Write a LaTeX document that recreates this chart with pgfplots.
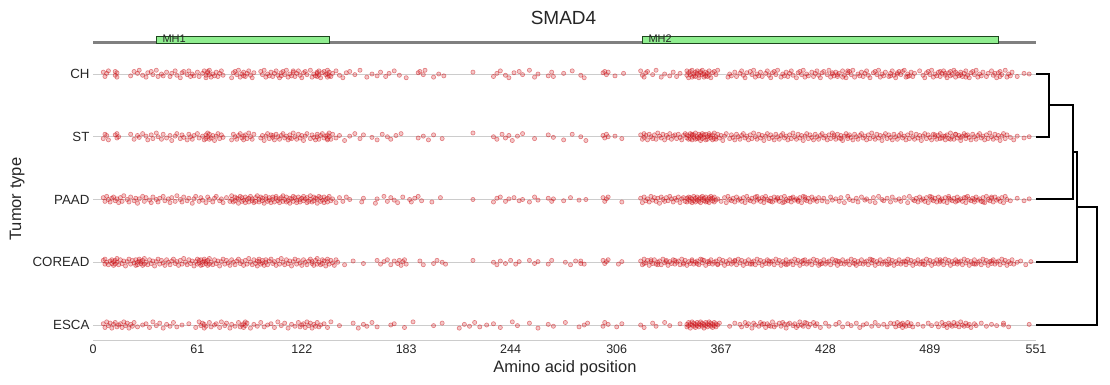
\documentclass[border=0pt]{standalone}
\usepackage{fontspec}
\setmainfont{Liberation Sans}
\usepackage{pgfplots}
\pgfplotsset{compat=1.18}
\definecolor{pt}{RGB}{205,20,25}
\definecolor{dom}{RGB}{144,238,144}
\definecolor{domedge}{RGB}{30,70,30}
\definecolor{gridc}{RGB}{204,204,204}
\definecolor{txt}{RGB}{38,38,38}
\pgfplotsset{pts/.style={only marks, mark=*, mark size=2.1pt, mark options={draw=pt, fill=pt, fill opacity=0.24, draw opacity=0.5, line width=0.6pt}}}
\begin{document}
\begin{tikzpicture}
\begin{axis}[
 at={(93pt,44pt)}, anchor=south west,
 scale only axis, width=943pt, height=283pt,
 xmin=0, xmax=551, ymin=-0.255, ymax=4.255,
 clip=false,
 axis line style={draw=none},
 xtick={0,61,122,183,244,306,367,428,489,551},
 ytick={0,1,2,3,4},
 yticklabels={ESCA,COREAD,PAAD,ST,CH},
 major tick length=0pt,
 ymajorgrids, grid style={gridc, line width=0.8pt},
 xticklabel style={font=\fontsize{12.5}{14}\selectfont, text=txt},
 yticklabel style={font=\fontsize{13.3}{15}\selectfont, text=txt},
 /pgf/number format/assume math mode=true,
 scaled ticks=false,
]
\draw[gridc, line width=1pt] (rel axis cs:0,0) -- (rel axis cs:1,0);
% CH
\addplot[pts] coordinates {(6,4.03)(7,3.96)(8,4.01)(9,4.05)(13,3.98)(13,4.04)(14,3.95)(14,4.02)
(22,3.97)(24,4.04)(26,4.01)(27,4.06)(29,3.98)(31,3.95)(32,4.02)(34,4.04)(35,3.99)(37,4.06)(38,3.96)(40,4.00)(41,3.97)(43,4.03)(45,3.96)(46,4.01)(48,4.05)(49,3.98)(51,3.94)(52,4.02)(53,4.04)(55,3.99)(56,4.05)(57,3.96)
(58,4.00)(59,3.97)(61,4.03)(62,3.96)(64,4.01)(65,4.05)(66,3.98)(66,3.94)(67,4.02)(67,4.04)(68,3.99)(68,4.06)(69,3.95)(70,4.00)(71,3.97)(72,4.03)(73,3.96)(74,4.01)(75,4.05)(76,3.98)
(81,3.94)(82,4.02)(83,4.04)(84,3.99)(85,4.06)(86,3.95)(87,4.00)(88,3.97)(88,4.03)(89,3.96)(90,4.01)(91,4.05)(92,3.98)(93,3.94)(94,4.02)
(98,4.04)(99,3.99)(100,4.06)(101,3.95)(102,4.00)(103,3.97)(104,4.03)(105,3.96)(106,4.01)(107,4.05)(108,3.98)(109,3.94)(110,4.02)(111,4.04)(112,3.99)(113,4.06)(114,3.95)(115,4.00)(116,3.97)(117,4.03)(118,3.96)(119,4.01)(120,4.05)(121,3.98)(122,3.94)(123,4.02)(124,4.04)(125,3.99)(110,3.97)(117,4.05)
(127,4.06)(128,3.95)(129,4.00)(130,3.97)(131,4.03)(131,3.96)(131,4.01)(132,4.05)(132,3.98)(133,3.94)(134,4.02)(135,4.04)(136,3.99)(137,4.06)(137,3.95)(137,4.00)(138,3.97)(138,4.03)(139,3.96)(140,4.01)
(142,4.05)(144,3.98)(146,3.94)(148,4.02)(150,4.04)(153,3.99)(156,4.06)(160,3.95)(163,4.00)(166,3.97)(168,4.03)(171,3.96)(173,4.01)(176,4.05)(179,3.98)(183,3.94)(190,4.02)(191,4.04)(193,3.99)(194,4.06)(199,3.95)(202,4.00)(205,3.97)(222,4.03)(234,3.96)(236,4.01)(238,4.05)(241,3.98)(243,3.94)(246,4.02)(249,4.04)(251,3.99)(255,4.06)(258,3.95)(260,4.00)(266,3.97)(268,4.03)(269,3.96)(275,4.01)(280,4.05)(285,3.98)
(287,3.94)(298,4.02)(299,4.04)(300,3.99)(301,4.03)(305,3.97)(310,4.01)
(320,4.05)(321,3.98)(322,3.95)(323,4.02)(324,4.04)(327,3.99)(329,4.06)(332,3.95)(334,4.00)(337,3.97)(339,4.03)(341,3.96)(343,4.01)
(347,4.05)(347,3.98)(348,3.94)(348,4.02)(349,4.04)(349,3.99)(350,4.06)(350,3.95)(351,4.00)(351,3.97)(352,4.03)(352,3.96)(353,4.01)(353,4.05)(354,3.98)(354,3.94)(355,4.02)(355,4.04)(356,3.99)(356,4.06)(357,3.95)(357,4.00)(358,3.97)(358,4.03)(359,3.96)(359,4.01)(360,4.05)(360,3.98)(361,3.94)(362,4.02)(363,4.04)(364,3.99)(365,4.06)
(371,3.95)(372,4.00)(373,3.97)(375,4.03)(376,3.96)(378,4.01)
(379,4.05)(380,3.98)(381,3.94)(382,4.02)(384,4.04)(385,3.99)(386,4.06)(387,3.95)(388,4.00)(389,3.97)(390,4.03)(391,3.96)(393,4.01)(394,4.05)(395,3.98)(396,3.94)(397,4.02)(398,4.04)(399,3.99)(400,4.06)(402,3.95)(403,4.00)(404,3.97)(405,4.03)(406,3.96)(407,4.01)(408,4.05)(409,3.98)(411,3.94)(412,4.02)(413,4.04)(414,3.99)(415,4.06)(416,3.95)(417,4.00)(418,3.97)(420,4.03)(421,3.96)(422,4.01)(423,4.05)(424,3.98)(425,3.94)(426,4.02)(427,4.04)(429,3.99)(430,4.06)(431,3.95)(432,4.00)(433,3.97)(434,4.03)(435,3.96)(436,4.01)(438,4.05)(439,3.98)(440,3.94)(441,4.02)(442,4.04)(443,3.99)(444,4.06)(445,3.95)(447,4.00)(448,3.97)(449,4.03)(450,3.96)(451,4.01)(452,4.05)(453,3.98)(454,3.94)(456,4.02)(457,4.04)(458,3.99)(459,4.06)(460,3.95)(461,4.00)(462,3.97)(463,4.03)(465,3.96)(466,4.01)(467,4.05)(468,3.98)(469,3.94)(470,4.02)(471,4.04)(472,3.99)(474,4.06)(475,3.95)(476,4.00)(477,3.97)(478,4.03)(479,3.96)
(432,4.02)(435,3.99)(438,3.95)(441,4.05)(466,3.97)(470,4.00)(473,4.04)(476,3.96)
(480,4.01)(483,4.05)
(485,3.98)(486,3.94)(487,4.02)(488,4.04)(489,3.99)(490,4.06)(491,3.95)(492,4.00)(493,3.97)(494,4.03)(495,3.96)(496,4.01)(497,4.05)(498,3.98)(499,3.94)(500,4.02)(501,4.04)(502,3.99)(503,4.06)(504,3.95)(505,4.00)(506,3.97)(507,4.03)(508,3.96)(509,4.01)(510,4.05)(511,3.98)(512,3.94)(513,4.02)(514,4.04)(515,3.99)(516,4.06)(517,3.95)(518,4.00)(495,4.04)(498,4.01)(501,3.97)(504,4.03)(507,3.99)(510,3.95)
(519,3.97)(520,4.03)(522,3.96)(523,4.01)(525,4.05)(526,3.98)(528,3.94)(529,4.02)(530,4.04)(531,3.99)(533,4.06)(534,3.95)(535,4.00)(536,3.97)(537,4.03)(527,4.01)(530,3.96)
(540,3.96)(544,4.01)(547,4.00)};
% ST
\addplot[pts] coordinates {(6,2.97)(7,3.04)(8,3.02)(9,2.95)(13,3.03)(14,2.98)(14,3.05)(15,3.00)
(22,3.04)(24,2.96)(26,3.02)(27,2.99)(29,3.05)(31,3.01)(32,2.95)(34,3.03)(35,2.97)(37,3.06)(38,3.00)(40,2.96)(41,3.04)(43,2.98)(45,3.02)(46,2.94)(48,3.01)(49,3.05)(51,2.97)(52,3.03)(53,2.99)(55,2.95)(56,3.04)(57,3.00)
(58,2.96)(59,3.02)(61,3.05)(62,2.98)(64,3.01)(65,2.95)(66,3.03)(66,2.97)(67,3.06)(67,3.00)(68,2.96)(68,3.04)(69,2.98)(70,3.02)(71,2.94)(72,3.01)(73,3.05)(74,2.97)(75,3.03)(76,2.99)
(81,2.95)(82,3.04)(83,3.00)(84,2.96)(85,3.02)(86,3.05)(87,2.98)(88,3.01)(88,2.95)(89,3.03)(90,2.97)(91,3.06)(92,3.00)(93,2.96)(94,3.04)
(98,2.98)(99,3.02)(100,2.94)(101,3.01)(102,3.05)(103,2.97)(104,3.03)(105,2.99)(106,2.95)(107,3.04)(108,3.00)(109,2.96)(110,3.02)(111,3.05)(112,2.98)(113,3.01)(114,2.95)(115,3.03)(116,2.97)(117,3.06)(118,3.00)(119,2.96)(120,3.04)(121,2.98)(122,3.02)(123,2.94)(124,3.01)(125,3.05)(105,3.02)(115,2.98)
(127,2.97)(128,3.03)(129,2.99)(130,2.95)(131,3.04)(131,3.00)(132,2.96)(133,3.02)(134,3.05)(135,2.98)(136,3.01)(137,2.95)(137,3.03)(137,2.97)(138,3.06)(138,3.00)(139,2.96)(140,3.04)
(142,2.98)(144,3.02)(147,2.94)(150,3.01)(153,3.05)(156,2.97)(158,3.03)(163,2.99)(166,2.95)(169,3.04)(172,3.00)(174,2.96)(177,3.02)(180,3.05)(190,2.98)(193,3.01)(196,2.95)(199,3.03)(204,2.97)(222,3.06)(234,3.00)(236,2.96)(239,3.04)(241,2.98)(243,3.02)(245,2.94)(248,3.01)(251,3.05)(258,2.97)(266,3.03)(269,2.99)(275,2.95)(280,3.04)(285,3.00)
(288,2.94)(298,3.02)(299,2.98)(300,3.04)(301,3.00)(305,3.01)(309,2.97)
(320,3.03)(321,2.96)(322,3.05)(322,2.99)(323,3.02)(324,2.95)(325,3.04)(326,3.00)(327,2.97)(328,3.03)(329,2.96)(330,3.06)(331,3.01)(332,2.98)(333,3.04)(334,2.95)(335,3.02)(336,2.99)(337,3.05)(338,2.96)(339,3.01)(340,3.03)(341,2.97)(342,3.04)(343,2.99)(344,2.95)(345,3.02)(346,3.05)
(347,2.98)(347,3.03)(348,2.96)(348,3.01)(349,3.05)(349,2.97)(350,3.02)(350,2.95)(350,3.04)(351,2.99)(351,3.03)(352,2.96)(352,3.06)(353,3.00)(353,2.97)(354,3.04)(354,2.98)(355,3.02)(355,2.94)(355,3.01)(356,3.05)(356,2.97)(357,3.03)(357,2.99)(358,2.95)(358,3.04)(359,3.00)(359,2.96)(360,3.02)(360,3.05)(361,2.98)(361,3.01)(362,2.95)(362,3.03)(363,2.97)(363,3.06)(364,3.00)(364,2.96)(365,3.04)(366,2.98)
(367,3.02)(368,2.94)(369,3.01)(370,3.05)(372,2.97)(373,3.03)(374,2.99)(375,2.95)(376,3.04)(377,3.00)(378,2.96)(379,3.02)(380,3.05)(381,2.98)(382,3.01)(383,2.95)(384,3.03)(385,2.97)(386,3.06)(387,3.00)(388,2.96)(389,3.04)(390,2.98)(391,3.02)(392,2.94)(393,3.01)(394,3.05)(395,2.97)(396,3.03)(397,2.99)(398,2.95)(399,3.04)(400,3.00)(401,2.96)(402,3.02)(403,3.05)(404,2.98)(405,3.01)(406,2.95)(407,3.03)(408,2.97)(409,3.06)(410,3.00)(411,2.96)(412,3.04)(413,2.98)(414,3.02)(415,2.94)(416,3.01)(417,3.05)(418,2.97)(419,3.03)(420,2.99)(421,2.95)(422,3.04)(423,3.00)(424,2.96)(425,3.02)(426,3.05)(427,2.98)(428,3.01)(429,2.95)(430,3.03)(431,2.97)(432,3.06)(433,3.00)(434,2.96)(435,3.04)(436,2.98)(437,3.02)(438,2.94)(439,3.01)(440,3.05)(441,2.97)(442,3.03)(443,2.99)(444,2.95)(445,3.04)(446,3.00)(447,2.96)(448,3.02)(449,3.05)(450,2.98)(451,3.01)(452,2.95)(453,3.03)(454,2.97)(455,3.06)(456,3.00)(457,2.96)(458,3.04)(459,2.98)(460,3.02)(461,2.94)(462,3.01)(463,3.05)(464,2.97)(465,3.03)(466,2.99)(467,2.95)(468,3.04)(469,3.00)(470,2.96)(471,3.02)(472,3.05)(473,2.98)(474,3.01)(475,2.95)(476,3.03)(477,2.97)(478,3.06)(479,3.00)(480,2.96)(481,3.04)(482,2.98)(483,3.02)(484,2.94)(485,3.01)(486,3.05)(487,2.97)(488,3.03)(489,2.99)(490,2.95)(491,3.04)(492,3.00)(493,2.96)(494,3.02)(495,3.05)(496,2.98)(497,3.01)(498,2.95)(499,3.03)(500,2.97)(501,3.06)(502,3.00)(503,2.96)(504,3.04)(505,2.98)(506,3.02)(507,2.94)(508,3.01)(509,3.05)(510,2.97)(511,3.03)(512,2.99)(513,2.95)(514,3.04)(515,3.00)(516,2.96)(517,3.02)(518,3.05)(519,2.98)(520,3.01)(521,2.95)(522,3.03)(523,2.97)(524,3.06)(525,3.00)(526,2.96)(527,3.04)(528,2.98)(529,3.02)(530,2.94)(531,3.01)(532,3.05)(533,2.97)(534,3.03)(536,2.99)(538,2.95)(540,3.01)(544,2.98)(547,3.00)
(492,3.03)(495,2.97)(498,3.01)(501,2.96)(504,3.04)(507,2.99)(510,3.02)(433,3.03)(437,2.97)(441,3.01)};
% PAAD
\addplot[pts] coordinates {(6,2.03)(7,1.97)(8,2.05)(9,2.00)(10,1.96)(11,2.02)(12,2.04)(13,1.98)(14,2.01)(15,1.95)(16,2.03)(17,1.97)(18,2.06)(20,2.00)(21,1.96)(22,2.04)(24,1.98)(25,2.02)(26,1.94)(27,2.01)(29,2.05)(30,1.97)(31,2.03)(33,1.99)(34,1.95)(35,2.04)(37,2.00)(38,1.96)(39,2.02)(41,2.05)(42,1.98)(44,2.01)(45,1.95)(46,2.03)(48,1.97)(49,2.06)(51,2.00)(52,1.96)(53,2.04)(55,1.98)(56,2.02)(58,1.94)(59,2.01)(60,2.05)(62,1.97)(63,2.03)(64,1.99)(66,1.95)(67,2.04)(68,2.00)(70,1.96)(71,2.02)(72,2.05)(74,1.98)(75,2.01)(76,1.95)(78,2.03)
(80,1.97)(81,2.06)(81,2.00)(82,1.96)(83,2.04)(83,1.98)(84,2.02)(85,1.94)(85,2.01)(86,2.05)(87,1.97)(87,2.03)(88,1.99)(89,1.95)(89,2.04)(90,2.00)(91,1.96)(91,2.02)(92,2.05)(93,1.98)(93,2.01)(94,1.95)(95,2.03)(95,1.97)(96,2.06)(97,2.00)(97,1.96)(98,2.04)(99,1.98)(99,2.02)(100,1.94)(101,2.01)(101,2.05)(102,1.97)(103,2.03)(103,1.99)(104,1.95)(105,2.04)(105,2.00)(106,1.96)(107,2.02)(107,2.05)(108,1.98)(109,2.01)(109,1.95)(110,2.03)(111,1.97)(111,2.06)(112,2.00)(113,1.96)(113,2.04)(114,1.98)(115,2.02)(115,1.94)(116,2.01)(117,2.05)(117,1.97)(118,2.03)(119,1.99)(119,1.95)(120,2.04)(121,2.00)(121,1.96)(122,2.02)(123,2.05)(123,1.98)(124,2.01)(125,1.95)(125,2.03)(126,1.97)(127,2.06)(127,2.00)(128,1.96)(129,2.04)(129,1.98)(130,2.02)(131,1.94)(131,2.01)(132,2.05)(133,1.97)(133,2.03)(134,1.99)(135,1.95)(135,2.04)(136,2.00)(137,1.96)(137,2.02)(138,2.05)(139,1.98)(140,2.01)
(142,1.95)(144,2.03)(146,1.97)(148,2.04)(150,2.00)(157,1.96)(158,2.02)(165,1.94)(166,2.01)(170,2.05)(172,1.97)(174,2.03)(176,1.99)(178,1.95)(181,2.04)(185,2.00)(186,1.96)(188,2.02)(190,2.05)(192,1.98)(198,1.96)(203,2.03)(222,2.00)(234,1.96)(236,2.02)(238,2.04)(241,1.97)(243,2.01)(246,2.03)(249,1.98)(251,2.00)(255,1.96)(258,2.04)(260,1.99)(266,2.02)(268,1.97)(269,2.01)(275,1.98)(279,2.03)(284,1.99)
(288,2.00)(298,2.03)(299,1.97)(300,2.01)(301,2.04)(309,1.96)
(320,2.02)(321,1.95)(322,2.04)(323,1.98)(324,2.01)(325,1.96)(326,2.05)(327,1.99)(328,2.03)(329,1.97)(330,2.02)(331,1.94)(332,2.04)(333,2.00)(334,1.97)(335,2.03)(336,1.98)(337,2.05)(338,2.01)(339,1.96)(340,2.02)(341,1.99)(342,2.04)(343,1.95)(344,2.01)(345,2.03)(346,1.97)
(347,2.02)(347,1.96)(348,2.04)(348,2.00)(349,1.97)(349,2.03)(350,1.95)(350,2.01)(351,2.05)(351,1.98)(352,2.02)(352,1.96)(353,2.04)(353,1.99)(354,2.01)(354,1.97)(355,2.03)(355,1.95)(356,2.05)(356,2.00)(357,1.98)(357,2.02)(358,1.96)(358,2.04)(359,2.00)(359,1.97)(360,2.03)(360,1.95)(361,2.01)(361,2.05)(362,1.98)(362,2.02)(363,1.96)(363,2.04)(364,1.99)(365,2.01)
(367,1.97)(369,2.03)
(370,1.95)(371,2.05)(372,2.00)(373,1.98)(374,2.02)(375,1.96)(376,2.04)(377,1.99)(378,2.01)(379,1.97)(380,2.03)(381,1.95)(382,2.05)(383,2.00)(384,1.98)(385,2.02)(386,1.96)(387,2.04)(388,1.99)(389,2.01)(390,1.97)(391,2.03)(392,1.95)(393,2.05)(394,2.00)(395,1.98)(396,2.02)(397,1.96)(398,2.04)(399,1.99)(400,2.01)(401,1.97)(402,2.03)(403,1.95)(404,2.05)(405,2.00)(406,1.98)(407,2.02)(408,1.96)(409,2.04)(410,1.99)(411,2.01)(412,1.97)(413,2.03)(414,1.95)(415,2.05)(416,2.00)(417,1.98)(418,2.02)(419,1.96)(420,2.04)(421,1.99)(422,2.01)(423,1.97)(424,2.03)(388,2.05)(392,2.01)(396,1.97)(400,2.03)(404,1.96)(408,2.02)(412,1.99)(416,2.04)
(426,1.98)(427,2.02)(429,1.96)(431,2.04)(432,1.99)(434,2.01)(436,1.97)(437,2.03)(439,1.95)(441,2.05)(442,2.00)(444,1.98)(446,2.02)(447,1.96)(449,2.04)(451,1.99)(452,2.01)(454,1.97)(456,2.03)(457,1.95)(459,2.05)(461,2.00)(462,1.98)(464,2.02)(466,1.96)(467,2.04)(469,1.99)(471,2.01)(472,1.97)(474,2.03)(476,1.95)(477,2.05)(479,2.00)
(480,1.98)(481,2.02)(482,1.96)(483,2.04)(484,1.99)(485,2.01)(486,1.97)(487,2.03)(488,1.95)(489,2.05)(490,2.00)(491,1.98)(492,2.02)(493,1.96)(494,2.04)(495,1.99)(496,2.01)(497,1.97)(498,2.03)(499,1.95)(500,2.05)(501,2.00)(502,1.98)(503,2.02)(504,1.96)(505,2.04)(506,1.99)(507,2.01)(508,1.97)(509,2.03)(510,1.95)(511,2.05)(512,2.00)(513,1.98)(514,2.02)(515,1.96)(516,2.04)(517,1.99)(518,2.01)(519,1.97)(520,2.03)(521,1.95)(522,2.05)(523,2.00)(524,1.98)(525,2.02)(526,1.96)(527,2.04)(528,1.99)(529,2.01)(530,1.97)(531,2.03)(532,1.95)(533,2.05)(534,2.00)(536,1.98)(490,2.04)(495,1.97)(500,2.02)(505,1.98)(510,2.03)(515,2.00)(520,1.96)(525,2.04)
(540,2.02)(544,1.98)(547,2.01)};
% COREAD
\addplot[pts] coordinates {(6,1.03)(7,0.97)(7,1.05)(8,1.00)(9,0.96)(10,1.02)(11,1.04)(11,0.98)(12,1.01)(12,0.95)(13,1.03)(13,0.97)(14,1.06)(14,1.00)(15,0.96)(16,1.04)(17,0.98)(18,1.02)(19,0.94)(20,1.01)(21,1.05)(22,0.97)(23,1.03)(24,0.99)(25,0.95)(25,1.04)(26,1.00)(26,0.96)(27,1.02)(27,1.05)(28,0.98)(28,1.01)(29,0.95)(29,1.03)(30,0.97)(30,1.06)(31,1.00)(32,0.96)(33,1.04)(34,0.98)(35,1.02)(36,0.94)(37,1.01)(38,1.05)(39,0.97)(40,1.03)(41,0.99)(42,0.95)(43,1.04)(44,1.00)(45,0.96)(46,1.02)(47,1.05)(48,0.98)(49,1.01)(50,0.95)(51,1.03)(52,0.97)(53,1.06)(54,1.00)(55,0.96)(56,1.04)(57,0.98)(58,1.02)(59,0.94)(60,1.01)(61,1.05)(61,0.97)(62,1.03)(62,0.99)(63,0.95)(63,1.04)(64,1.00)(64,0.96)(65,1.02)(65,1.05)(66,0.98)(66,1.01)(67,0.95)(67,1.03)(68,0.97)(68,1.06)(69,1.00)(70,0.96)(71,1.04)(72,0.98)(73,1.02)(74,0.94)(75,1.01)(76,1.05)(77,0.97)(78,1.03)(79,0.99)(80,0.95)(81,1.04)(82,1.00)(83,0.96)(84,1.02)(85,1.05)(86,0.98)(87,1.01)(88,0.95)(89,1.03)(90,0.97)(91,1.06)(92,1.00)(93,0.96)(94,1.04)(95,0.98)(96,1.02)(96,0.94)(97,1.01)(97,1.05)(98,0.97)(99,1.03)(99,0.99)(100,0.95)(101,1.04)(101,1.00)(102,0.96)(103,1.02)(104,1.05)(105,0.98)(106,1.01)(107,0.95)(108,1.03)(109,0.97)(110,1.06)(111,1.00)(112,0.96)(113,1.04)(114,0.98)(115,1.02)(116,0.94)(117,1.01)(118,1.05)(119,0.97)(120,1.03)(121,0.99)(122,0.95)(123,1.04)(124,1.00)(125,0.96)(126,1.02)(127,1.05)(128,0.98)(128,1.01)(129,0.95)(130,1.03)(131,0.97)(131,1.06)(132,1.00)(133,0.96)(134,1.04)(134,0.98)(135,1.02)(136,0.94)(137,1.01)(137,1.05)(138,0.97)(139,1.03)(140,0.99)(141,0.95)(142,1.04)(143,1.00)
(147,0.96)(152,1.02)(158,0.98)(166,1.03)(168,0.97)(170,1.01)(172,1.04)(174,0.96)(176,1.02)(178,0.98)(179,1.03)(180,0.95)(181,1.01)(182,1.04)(183,0.97)(191,1.02)(193,0.96)(199,0.98)(201,1.03)(204,1.00)(206,0.97)(222,1.03)(234,1.00)(236,0.96)(238,1.02)(241,0.98)(244,1.03)(247,0.97)(249,1.01)(255,1.03)(258,0.98)(260,1.01)(266,0.97)(268,1.03)(276,1.00)(279,0.96)(282,1.02)(285,0.98)
(285,1.02)(287,0.97)(298,1.03)(299,0.98)(300,1.01)(301,1.04)(307,0.97)(309,1.01)
(320,1.02)(321,0.96)(322,1.05)(323,0.99)(324,1.03)(325,0.95)(326,1.01)(327,0.98)(328,1.04)(329,0.97)(330,1.00)(331,1.02)(332,0.96)(333,1.05)(334,0.99)(335,1.03)(336,0.95)(337,1.01)(338,0.98)(339,1.04)(340,0.97)(341,1.00)(342,1.02)(343,0.96)(344,1.05)(345,0.99)(346,1.03)(347,0.95)(348,1.01)(349,0.98)(350,1.04)(351,0.97)(352,1.00)(353,1.02)(354,0.96)(355,1.05)(356,0.99)(357,1.03)(358,0.95)(359,1.01)(360,0.98)(361,1.04)(362,0.97)(363,1.00)(364,1.02)(365,0.96)(366,1.05)(367,0.99)(368,1.03)(369,0.95)(370,1.01)(371,0.98)(372,1.04)(373,0.97)(374,1.00)(375,1.02)(376,0.96)(377,1.05)(378,0.99)(379,1.03)(380,0.95)(381,1.01)(382,0.98)(383,1.04)(384,0.97)(385,1.00)(386,1.02)(387,0.96)(388,1.05)(389,0.99)(390,1.03)(391,0.95)(392,1.01)(393,0.98)(394,1.04)(395,0.97)(396,1.00)(397,1.02)(398,0.96)(399,1.05)(400,0.99)(401,1.03)(402,0.95)(403,1.01)(404,0.98)(405,1.04)(406,0.97)(407,1.00)(408,1.02)(409,0.96)(410,1.05)(411,0.99)(412,1.03)(413,0.95)(414,1.01)(415,0.98)(416,1.04)(417,0.97)(418,1.00)(419,1.02)(420,0.96)(421,1.05)(422,0.99)(423,1.03)(424,0.95)(425,1.01)(426,0.98)(427,1.04)(428,0.97)(429,1.00)(430,1.02)(431,0.96)(432,1.05)(433,0.99)(434,1.03)(435,0.95)(436,1.01)(437,0.98)(438,1.04)(439,0.97)(440,1.00)(441,1.02)(442,0.96)(443,1.05)(444,0.99)(445,1.03)(446,0.95)(447,1.01)(448,0.98)(449,1.04)(450,0.97)(451,1.00)(452,1.02)(453,0.96)(454,1.05)(455,0.99)(456,1.03)(457,0.95)(458,1.01)(459,0.98)(460,1.04)(461,0.97)(462,1.00)(463,1.02)(464,0.96)(465,1.05)(466,0.99)(467,1.03)(468,0.95)(469,1.01)(470,0.98)(471,1.04)(472,0.97)(473,1.00)(474,1.02)(475,0.96)(476,1.05)(477,0.99)(478,1.03)(479,0.95)(480,1.01)(481,0.98)(482,1.04)(483,0.97)(484,1.00)(485,1.02)(486,0.96)(487,1.05)(488,0.99)(489,1.03)(490,0.95)(491,1.01)(492,0.98)(493,1.04)(494,0.97)(495,1.00)(496,1.02)(497,0.96)(498,1.05)(499,0.99)(500,1.03)(501,0.95)(502,1.01)(503,0.98)(504,1.04)(505,0.97)(506,1.00)(507,1.02)(508,0.96)(509,1.05)(510,0.99)(511,1.03)(512,0.95)(513,1.01)(514,0.98)(515,1.04)(516,0.97)(517,1.00)(518,1.02)(519,0.96)(520,1.05)(521,0.99)(522,1.03)(523,0.95)(524,1.01)(525,0.98)(526,1.04)(527,0.97)(528,1.00)(529,1.02)(530,0.96)(531,1.05)(532,0.99)(533,1.03)(534,0.95)(535,1.01)(536,0.98)(537,1.04)(538,0.97)(540,1.00)(542,1.02)(545,0.96)(548,1.01)
(322,0.98)(326,1.04)(330,0.96)(335,1.01)(340,1.03)(345,0.97)(350,1.02)(353,0.98)(356,1.04)(360,1.01)(365,0.97)(375,1.03)(385,0.97)(395,1.02)(405,0.96)(415,1.03)(425,0.97)(435,1.02)(445,0.98)(455,1.04)(465,0.97)(475,1.01)(485,0.97)(495,1.04)(505,1.01)(515,0.97)(525,1.02)};
% ESCA
\addplot[pts] coordinates {(6,0.02)(7,-0.04)(8,0.05)(9,-0.01)(10,0.03)(11,-0.05)(12,0.01)(13,0.04)(14,-0.03)(15,0.00)(16,0.02)(17,-0.04)(18,0.05)(19,-0.01)(20,0.03)(21,-0.05)(22,0.01)(23,-0.02)(24,0.04)(26,-0.03)
(29,0.00)(31,0.02)(33,-0.04)(35,0.05)(37,-0.01)(39,0.03)(41,-0.05)(43,0.01)(45,-0.02)(47,0.04)(49,-0.03)
(52,0.00)(56,0.02)(60,-0.04)
(62,0.05)(63,-0.01)(64,0.03)(65,-0.05)(65,0.01)(66,-0.02)(68,0.04)(69,-0.03)(71,0.00)(72,0.02)(74,-0.04)(75,0.05)(77,-0.01)(78,0.03)(80,-0.05)(81,0.01)
(83,-0.02)(85,0.04)(86,-0.03)(87,0.00)(88,0.02)(88,-0.04)(89,0.05)(89,-0.01)(90,0.03)(92,-0.05)(94,0.01)(96,-0.02)(98,0.04)(100,-0.03)
(102,0.00)(104,0.02)(106,-0.04)(108,0.05)(110,-0.01)(112,0.03)(114,-0.05)(116,0.01)(118,-0.02)
(120,0.04)(121,-0.03)(122,0.00)(123,0.02)(124,-0.04)(125,0.05)(126,-0.01)(127,0.03)(128,-0.05)(129,0.01)(130,-0.02)(131,0.04)(132,-0.03)(133,0.00)(135,0.02)(137,-0.04)
(139,0.05)(144,-0.01)(152,0.03)(155,-0.05)(158,0.01)(160,-0.02)(163,0.04)(166,-0.03)(174,0.00)(176,0.02)(182,-0.04)(187,0.05)(199,-0.01)(204,0.03)(214,-0.05)(217,0.01)(220,-0.02)(223,0.04)(226,-0.03)(230,0.00)(234,0.02)(238,-0.04)(245,0.05)(248,-0.01)(255,0.03)(260,-0.05)(266,0.01)(269,-0.02)(276,0.04)(284,-0.03)
(287,0.00)(289,0.03)(298,-0.02)(299,0.04)(301,0.01)(306,-0.03)(309,0.02)
(320,0.00)(322,-0.04)(327,0.03)(329,-0.02)(334,0.04)(337,-0.01)(343,0.02)
(347,0.01)(347,-0.03)(348,0.04)(348,-0.01)(349,0.02)(349,-0.05)(350,0.05)(350,0.00)(351,-0.02)(351,0.03)(352,-0.04)(352,0.01)(353,0.04)(353,-0.01)(354,0.02)(354,-0.03)(355,0.05)(355,0.00)(356,-0.02)(356,0.03)(357,-0.05)(357,0.01)(358,0.04)(358,-0.01)(359,0.02)(359,-0.03)(360,0.05)(360,0.00)(361,-0.02)(361,0.03)(362,-0.04)(362,0.01)(363,0.04)(363,-0.01)(364,0.02)(364,-0.03)(365,0.00)(366,0.03)
(372,-0.02)(375,0.03)
(378,0.01)(379,-0.03)(381,0.04)(382,-0.01)(383,0.02)(385,-0.05)(386,0.03)(387,0.00)(389,-0.02)(390,0.04)(391,0.01)(393,-0.04)(394,0.02)(395,-0.01)(397,0.05)(398,-0.03)(399,0.00)(401,0.03)(402,-0.02)(403,0.04)(405,-0.05)(406,0.01)(407,0.03)(409,-0.01)(410,0.02)(411,-0.04)(413,0.05)(414,0.00)(415,-0.02)(417,0.03)(418,-0.03)(419,0.01)(421,0.04)(422,-0.01)(423,0.02)(425,-0.04)(392,0.02)(396,-0.02)(404,0.01)(412,-0.01)(416,0.04)
(428,0.03)(430,-0.02)(434,0.01)(436,0.04)(438,-0.03)(441,0.02)(443,-0.01)(446,0.03)(448,-0.04)(450,0.00)(452,0.02)(455,-0.02)(457,0.04)(459,-0.01)(462,0.01)(464,-0.03)(466,0.03)
(468,0.02)(469,-0.03)(470,0.04)(471,-0.01)(472,0.01)(473,-0.04)(473,0.03)(474,0.00)(475,-0.02)(476,0.04)(477,-0.01)(478,0.02)(479,-0.03)
(482,0.01)(485,-0.02)(488,0.03)(490,-0.01)
(493,0.02)(494,-0.03)(496,0.04)(497,-0.01)(498,0.01)(499,-0.04)(500,0.03)(501,0.00)(502,-0.02)(503,0.04)(504,-0.01)(505,0.02)(506,-0.03)(507,0.05)(508,0.00)(509,-0.02)(510,0.03)(511,-0.01)(512,0.01)(513,-0.04)(515,0.02)(516,-0.01)
(519,0.03)(522,-0.02)(525,0.01)(528,-0.01)(532,0.03)(532,0.00)(535,-0.03)
(547,0.01)};
% protein track
\addplot[color={rgb,255:red,128;green,128;blue,128}, line width=2.6pt] coordinates {(0,4.505)(551,4.505)};
\addplot[draw=domedge, fill=dom, line width=0.8pt] coordinates {(37,4.49)(37,4.605)(138,4.605)(138,4.49)(37,4.49)};
\addplot[draw=domedge, fill=dom, line width=0.8pt] coordinates {(321,4.49)(321,4.605)(529,4.605)(529,4.49)(321,4.49)};
\node[anchor=base west, font=\fontsize{11}{12}\selectfont, text=txt, inner sep=0pt] at (axis cs:40.5,4.50) {MH1};
\node[anchor=base west, font=\fontsize{11}{12}\selectfont, text=txt, inner sep=0pt] at (axis cs:324.5,4.50) {MH2};
% dendrogram
\addplot[black, line width=2pt] coordinates {(551,4)(558.6,4)(558.6,3)(551,3)};
\addplot[black, line width=2pt] coordinates {(558.6,3.5)(572.6,3.5)(572.6,2)(551,2)};
\addplot[black, line width=2pt] coordinates {(572.6,2.75)(574.9,2.75)(574.9,1)(551,1)};
\addplot[black, line width=2pt] coordinates {(574.9,1.875)(586.6,1.875)(586.6,0)(551,0)};
\end{axis}
\node[anchor=base, font=\fontsize{19}{22}\selectfont, text=txt] at (563.5pt,360pt) {SMAD4};
\node[anchor=base, font=\fontsize{16.5}{19}\selectfont, text=txt] at (565pt,12.3pt) {Amino acid position};
\node[anchor=base, rotate=90, font=\fontsize{16.5}{19}\selectfont, text=txt] at (21pt,185.8pt) {Tumor type};
\pgfresetboundingbox
\path[use as bounding box] (0,0) rectangle (1110pt,385pt);
\end{tikzpicture}
\end{document}
